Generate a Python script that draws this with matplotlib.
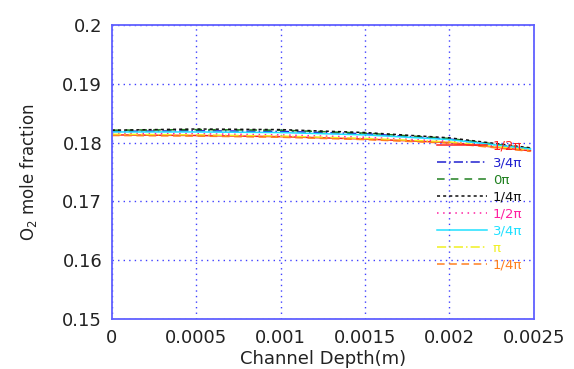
import numpy as np
import matplotlib.pyplot as plt

plt.rcParams['font.family'] = ['DejaVu Sans']

depth = [0, 0.0005, 0.001, 0.0015, 0.002, 0.00248]
labels = ['1/2\u03c0', '3/4\u03c0', '0\u03c0', '1/4\u03c0', '1/2\u03c0', '3/4\u03c0', '\u03c0', '1/4\u03c0']
colors = ['#ff2020', '#2020d0', '#208020', '#101010', '#ff20a0', '#20e0ff', '#f0f020', '#ff8020']
styles = ['-', (0, (6, 2, 1, 2)), (0, (5, 4)), (0, (2, 2)), (0, (1, 3)), '-', (0, (6, 2, 1, 2)), (0, (5, 3))]

o2_red = [0.1813, 0.1812, 0.1810, 0.1806, 0.1800, 0.1786]
o2_blue = [0.1819, 0.1820, 0.1819, 0.1815, 0.1806, 0.1789]
o2_green = [0.1821, 0.1822, 0.1821, 0.1816, 0.1807, 0.1790]
o2_black = [0.1821, 0.1823, 0.1822, 0.1817, 0.1808, 0.1791]
o2_magenta = [0.1816, 0.1815, 0.1813, 0.1809, 0.1802, 0.1788]
o2_cyan = [0.1818, 0.1818, 0.1817, 0.1813, 0.1805, 0.1789]
o2_yellow = [0.1814, 0.1813, 0.1811, 0.1807, 0.1801, 0.1787]
o2_orange = [0.1812, 0.1811, 0.1809, 0.1805, 0.1799, 0.1785]
series = [o2_red, o2_blue, o2_green, o2_black, o2_magenta, o2_cyan, o2_yellow, o2_orange]

fig = plt.figure(figsize=(5.74, 3.69), dpi=100)
ax = fig.add_axes([0.195, 0.1355, 0.735, 0.797])

for y, lab, c, ls in zip(series, labels, colors, styles):
    ax.plot(depth, y, color=c, linestyle=ls, linewidth=1.1, label=lab)

ax.set_xlim(0, 0.0025)
ax.set_ylim(0.15, 0.2)
ax.set_xticks([0, 0.0005, 0.001, 0.0015, 0.002, 0.0025])
ax.set_xticklabels(['0', '0.0005', '0.001', '0.0015', '0.002', '0.0025'])
ax.set_yticks([0.15, 0.16, 0.17, 0.18, 0.19, 0.2])
ax.set_yticklabels(['0.15', '0.16', '0.17', '0.18', '0.19', '0.2'])
ax.tick_params(labelsize=13, length=0, pad=7, labelcolor='#222222')
ax.grid(True, color='#4040ff', linestyle=(0, (1, 3)), linewidth=1)
for s in ax.spines.values():
    s.set_color('#6060ff')
    s.set_linewidth(1.3)

ax.set_xlabel('Channel Depth(m)', fontsize=13, labelpad=2, color='#222222')
ax.set_ylabel('O$_2$ mole fraction', fontsize=12, labelpad=17, color='#222222')

ax.legend(loc='lower right', frameon=False, fontsize=9.5, labelcolor='linecolor',
          handlelength=3.8, handletextpad=0.4, labelspacing=0.3,
          borderaxespad=0.0, bbox_to_anchor=(0.985, 0.143))

fig.savefig('out.png', dpi=100)
